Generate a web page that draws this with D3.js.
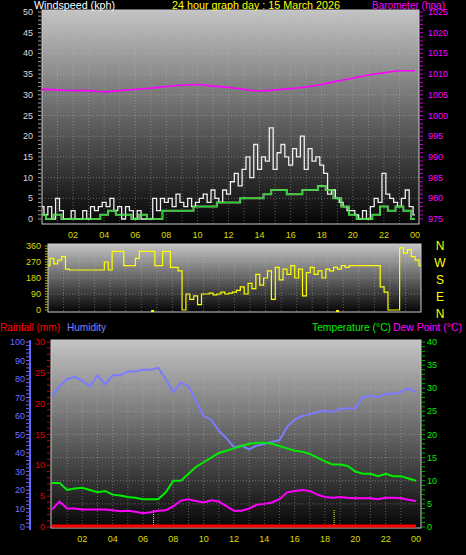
<!DOCTYPE html>
<html><head><meta charset="utf-8">
<script src="https://cdn.jsdelivr.net/npm/d3@7"></script>
<style>body{margin:0;background:#000}svg{display:block}text{font-family:"Liberation Sans",Arial,sans-serif}</style>
</head><body>
<svg id="c" width="466" height="555"></svg>
<script>
// hours 0..24
var hourTicks = [2,4,6,8,10,12,14,16,18,20,22,24];
var hourLabels = ["02","04","06","08","10","12","14","16","18","20","22","00"];

// barometer, hourly
var baro = [1006.3,1006.2,1006.0,1006.0,1005.7,1006.0,1006.3,1006.6,1007.0,1007.3,1007.5,1007.1,1006.8,1006.3,1005.9,1006.2,1006.5,1006.9,1007.5,1008.3,1009.0,1009.8,1010.3,1010.8,1010.8];
// wind gust, every 15 min
var gust = [3,1,3,0,5,2,0,0,2, 0,0,2,0,3,2,3,4, 3,5,2,3,0,3,2,0, 2,0,0,0,5,2,5,4, 5,3,6,4,3,5,3,4,
  5,6,4,7,5,4,7,6, 9,11,8,12,15,10,18,12, 15,14,22,12,16,18,15,13, 17,15,20,12,17,14,15,13,
  11,6,7,5,4,3,2,2, 1,0,2,0,3,5,4,11, 6,5,4,3,5,7,3,1];
// wind average, every 30 min
var avgWind = [1,0,1,0,0,0,0,0,1,2,1,1,0,1,0,0,2,2,2,2,3,3,3,4,4,4,5,5,5,6,7,7,6,6,7,7,8,7,5,3,1,0,0,1,3,2,3,2,0];
// wind direction, every 15 min
var windDir = [250,290,260,280,300,230,225,225,225, 225,225,225,225,225,225,270,225, 330,330,330,250,250,250,290,330,
  330,330,330,250,250,330,330,240, 240,220,0,90,60,80,30,90, 90,95,85,90,100,90,95,100,
  110,130,90,150,120,200,140,180, 220,60,240,170,230,200,250,180, 230,80,210,240,200,220,180,230,
  220,240,230,250,240,250,250,250, 250,250,250,250,250,130,100,0, 0,0,350,320,340,300,280,250];
// every 30 min
var humidity = [71,76,80,81,79,76,82,77,82,82,84,84,85,85,86,80,73,78,76,68,60,58,52,48,43,44,42,44,45,46,47,54,58,60,61,62,63,62,64,64,64,70,71,70,72,72,73,75,73];
var temperature = [9.5,9.5,8,8.3,8.5,8,7.5,7.8,7,6.8,6.5,6.3,6,6,6,7.5,10,10,11.5,13,14,15,16,16.5,17,17.5,18,18.2,18.2,18,17.5,17,16.5,16.3,15.8,15,14.2,13.5,13.5,13.2,12,11.5,11.5,11,11.5,11,11,10.5,10];
var dewPoint = [3.8,5.5,4,4,3.8,3.8,3.8,3.8,3.6,3.4,3.5,3.3,3,3.2,3.5,3.6,4.5,5.7,6,5.6,5.3,5.8,5.5,4.5,3.5,3.5,4,4.8,5,5.3,6,7.5,7.8,8,7.8,7,6.5,6.3,6.5,6.3,6.2,6.2,6.2,6,6.3,6.3,6.2,5.9,5.6];
var rainfall = [0,0];
var sunMarks = [6.7, 18.6];

var svg = d3.select("#c");
var defs = svg.append("defs");
var g = defs.append("linearGradient").attr("id","bg").attr("x1",0).attr("y1",0).attr("x2",0).attr("y2",1);
g.append("stop").attr("offset",0).attr("stop-color","#c4c4c4");
g.append("stop").attr("offset",1).attr("stop-color","#050505");

function panel(x0,x1,y0,y1,hx0,hx1){
  svg.append("rect").attr("x",x0).attr("y",y0).attr("width",x1-x0).attr("height",y1-y0).attr("fill","url(#bg)");
  var x = d3.scaleLinear().domain([0,24]).range([hx0,hx1]);
  for (var h=1; h<24; h++) {
    svg.append("line").attr("x1",x(h)).attr("x2",x(h)).attr("y1",y0).attr("y2",y1)
      .attr("stroke","#bbb").attr("stroke-opacity",0.45).attr("stroke-dasharray","1,2");
  }
  svg.append("rect").attr("x",x0).attr("y",y0).attr("width",x1-x0).attr("height",y1-y0)
    .attr("fill","none").attr("stroke","#ccc").attr("stroke-width",1);
  return x;
}
function hgrid(y,vals,x0,x1){
  vals.forEach(v=>svg.append("line").attr("x1",x0).attr("x2",x1).attr("y1",y(v)).attr("y2",y(v))
    .attr("stroke","#bbb").attr("stroke-opacity",0.45).attr("stroke-dasharray","1,2"));
}
function yLabels(y,vals,x,color,anchor){
  vals.forEach(v=>svg.append("text").attr("x",x).attr("y",y(v)+3).attr("fill",color)
    .attr("font-size",9).attr("text-anchor",anchor||"end").text(v));
}
function xLabels(x,yy){
  hourTicks.forEach((h,i)=>svg.append("text").attr("x",x(h)).attr("y",yy).attr("fill","#dddd00")
    .attr("font-size",9).attr("text-anchor","middle").text(hourLabels[i]));
}
function ticks(y,d0,d1,step,x,len,color){
  for (var v=d0; v<=d1; v+=step) svg.append("line").attr("x1",x).attr("x2",x+len).attr("y1",y(v)).attr("y2",y(v)).attr("stroke",color);
}
function title(x,y,w,color,t){
  svg.append("text").attr("x",x).attr("y",y).attr("fill",color).attr("font-size",11)
    .attr("textLength",w).attr("lengthAdjust","spacingAndGlyphs").text(t);
}
var idx15 = (d,i)=>i*0.25, idx30 = (d,i)=>i*0.5;

// ---- top panel
var xT = panel(42,419,10,224,42,415);
var yW = d3.scaleLinear().domain([0,50]).range([219,12]);
var yB = d3.scaleLinear().domain([975,1025]).range([219,12]);
hgrid(yW,[5,10,15,20,25,30,35,40,45],42,419);
ticks(yW,0,50,1,38,3,"#999");
ticks(yB,975,1025,1,420,3,"#c0c");
yLabels(yW,[0,5,10,15,20,25,30,35,40,45,50],33,"#ddd");
yLabels(yB,[975,980,985,990,995,1000,1005,1010,1015,1020,1025],428,"#ff00ff","start");
svg.append("path").datum(gust).attr("fill","none").attr("stroke","#eee").attr("stroke-width",1.3)
  .attr("d",d3.line().x((d,i)=>xT(idx15(d,i))).y(d=>yW(d)).curve(d3.curveStep));
svg.append("path").datum(avgWind).attr("fill","none").attr("stroke","#9f9").attr("stroke-width",2).attr("stroke-opacity",0.8)
  .attr("d",d3.line().x((d,i)=>xT(idx30(d,i))).y(d=>yW(d)).curve(d3.curveStep));
svg.append("path").datum(avgWind).attr("fill","none").attr("stroke","#0c0").attr("stroke-width",0.8)
  .attr("d",d3.line().x((d,i)=>xT(idx30(d,i))).y(d=>yW(d)).curve(d3.curveStep));
svg.append("path").datum(baro).attr("fill","none").attr("stroke","#f0f").attr("stroke-width",1.6)
  .attr("d",d3.line().x((d,i)=>xT(i)).y(d=>yB(d)).curve(d3.curveMonotoneX));
xLabels(xT,238);
title(34,9,81,"#fff","Windspeed (kph)");
title(172,9,168,"#ff0","24 hour graph day : 15 March 2026");
title(372,9,73,"#f0f","Barometer (hpa)");

// ---- wind direction panel
var xD = panel(48,421,244,312,48,421);
var yD = d3.scaleLinear().domain([0,360]).range([310,246]);
hgrid(yD,[90,180,270],48,421);
ticks(yD,0,360,15,45,3,"#aa0");
yLabels(yD,[0,90,180,270,360],41,"#dddd00");
svg.append("path").datum(windDir).attr("fill","none").attr("stroke","#ff0").attr("stroke-width",1.2)
  .attr("d",d3.line().x((d,i)=>xD(idx15(d,i))).y(d=>yD(d)).curve(d3.curveStep));
sunMarks.forEach(h=>svg.append("rect").attr("x",xD(h)-1).attr("y",310).attr("width",3).attr("height",2).attr("fill","#ff0"));
["N","W","S","E","N"].forEach((t,i)=>svg.append("text").attr("x",440).attr("y",[250,267,284,301,318][i])
  .attr("fill","#ff0").attr("font-size",12).attr("text-anchor","middle").text(t));

// ---- bottom panel
var xB = panel(51,421,340,528,52,416);
var yH = d3.scaleLinear().domain([0,100]).range([527,342]);
var yR = d3.scaleLinear().domain([0,30]).range([527,342]);
var yTmp = d3.scaleLinear().domain([0,40]).range([527,342]);
hgrid(yTmp,[5,10,15,20,25,30,35],51,421);
svg.append("line").attr("x1",30).attr("x2",30).attr("y1",340).attr("y2",530).attr("stroke","#66f").attr("stroke-width",2);
ticks(yH,0,100,2,26,3,"#66f");
ticks(yR,0,30,1,47,3,"#c00");
ticks(yTmp,0,40,1,422,3,"#0a0");
yLabels(yH,[0,10,20,30,40,50,60,70,80,90,100],25,"#6f6fff");
yLabels(yR,[0,5,10,15,20,25,30],45,"#e00000");
yLabels(yTmp,[0,5,10,15,20,25,30,35,40],427,"#00ee00","start");
sunMarks.forEach(h=>svg.append("line").attr("x1",xB(h)).attr("x2",xB(h)).attr("y1",527).attr("y2",510)
  .attr("stroke","#ff0").attr("stroke-dasharray","1,1"));
function series(data,y,color,w){
  svg.append("path").datum(data).attr("fill","none").attr("stroke",color).attr("stroke-width",w)
    .attr("d",d3.line().x((d,i)=>xB(idx30(d,i))).y(d=>y(d)));
}
series(humidity,yH,"#7b7bff",2);
series(temperature,yTmp,"#00ee00",2);
series(dewPoint,yTmp,"#ff00ff",2);
svg.append("path").datum(rainfall).attr("fill","none").attr("stroke","#f00").attr("stroke-width",3)
  .attr("d",d3.line().x((d,i)=>xB(i*24)).y(d=>yR(d)-1));
xLabels(xB,542);
title(0,331,60,"#f00","Rainfall (mm)");
title(67,331,39,"#8080ff","Humidity");
title(312,331,79,"#00ee00","Temperature (°C)");
title(393,331,69,"#ff00ff","Dew Point (°C)");
</script>
</body></html>
